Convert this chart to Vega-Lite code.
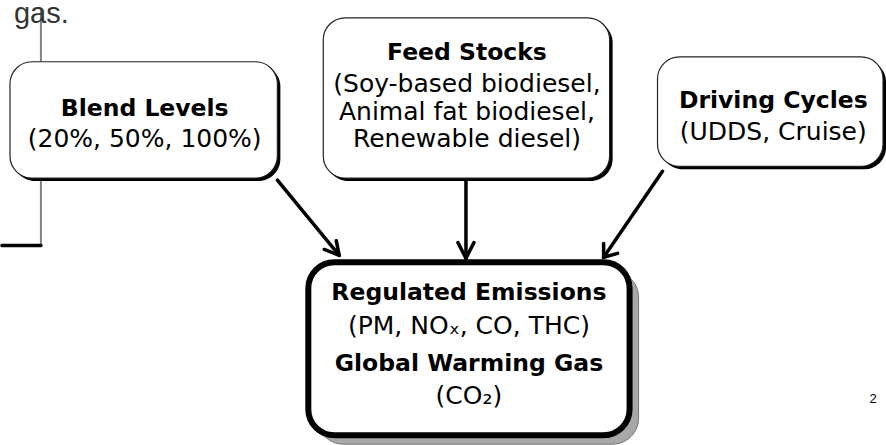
{
  "$schema": "https://vega.github.io/schema/vega-lite/v6.json",
  "width": 886,
  "height": 445,
  "padding": 0,
  "autosize": {"type": "fit", "contains": "padding"},
  "background": "white",
  "config": {"view": {"stroke": null}},
  "datasets": {
    "boxes": [
      {"name": "Blend", "x": 8, "x2": 276, "y": 55, "y2": 174},
      {"name": "Feed", "x": 322, "x2": 609, "y": 10, "y2": 174},
      {"name": "Driving", "x": 657, "x2": 883, "y": 50, "y2": 162}
    ],
    "center": [
      {"name": "Result", "x": 307, "x2": 629, "y": 260, "y2": 437}
    ],
    "segments": [
      {"kind": "arrow", "x": 276, "y": 176, "x2": 338, "y2": 253},
      {"kind": "arrow", "x": 338, "y": 253, "x2": 335, "y2": 238},
      {"kind": "arrow", "x": 338, "y": 253, "x2": 323, "y2": 247},
      {"kind": "arrow", "x": 465, "y": 177, "x2": 465, "y2": 256},
      {"kind": "arrow", "x": 465, "y": 256, "x2": 457, "y2": 240},
      {"kind": "arrow", "x": 465, "y": 256, "x2": 473, "y2": 240},
      {"kind": "arrow", "x": 662, "y": 167, "x2": 603, "y2": 255},
      {"kind": "arrow", "x": 603, "y": 255, "x2": 603, "y2": 241},
      {"kind": "arrow", "x": 603, "y": 255, "x2": 617, "y2": 251},
      {"kind": "bracket", "x": 0, "y": 243, "x2": 39, "y2": 243}
    ],
    "guides": [
      {"x": 39, "y": 0, "x2": 39, "y2": 55},
      {"x": 39, "y": 177, "x2": 39, "y2": 244}
    ],
    "labels": [
      {"text": "Blend Levels", "x": 143, "y": 103, "weight": "bold"},
      {"text": "(20%, 50%, 100%)", "x": 143, "y": 134, "weight": "normal"},
      {"text": "Feed Stocks", "x": 466, "y": 46, "weight": "bold"},
      {"text": "(Soy-based biodiesel,", "x": 466, "y": 78, "weight": "normal"},
      {"text": "Animal fat biodiesel,", "x": 466, "y": 106, "weight": "normal"},
      {"text": "Renewable diesel)", "x": 466, "y": 134, "weight": "normal"},
      {"text": "Driving Cycles", "x": 773, "y": 95, "weight": "bold"},
      {"text": "(UDDS, Cruise)", "x": 773, "y": 127, "weight": "normal"},
      {"text": "Regulated Emissions", "x": 468, "y": 292, "weight": "bold"},
      {"text": "(PM, NOₓ, CO, THC)", "x": 468, "y": 325, "weight": "normal"},
      {"text": "Global Warming Gas", "x": 468, "y": 364, "weight": "bold"},
      {"text": "(CO₂)", "x": 468, "y": 397, "weight": "normal"}
    ],
    "misc": [
      {"text": "gas.", "x": 12, "y": 15, "role": "caption"},
      {"text": "2", "x": 873, "y": 400, "role": "page"}
    ]
  },
  "layer": [
    {
      "data": {"name": "guides"},
      "mark": {"type": "rule", "color": "#808080", "strokeWidth": 2},
      "encoding": {
        "x": {"field": "x", "type": "quantitative", "scale": {"domain": [0, 886], "nice": false, "zero": false}, "axis": null},
        "y": {"field": "y", "type": "quantitative", "scale": {"domain": [0, 445], "nice": false, "zero": false, "reverse": true}, "axis": null},
        "x2": {"field": "x2"},
        "y2": {"field": "y2"}
      }
    },
    {
      "data": {"name": "misc"},
      "transform": [{"filter": "datum.role === 'caption'"}],
      "mark": {"type": "text", "font": "Liberation Sans", "fontSize": 29, "align": "left", "baseline": "alphabetic", "color": "#333333"},
      "encoding": {
        "x": {"field": "x", "type": "quantitative"},
        "y": {"field": "y", "type": "quantitative"},
        "text": {"field": "text"}
      }
    },
    {
      "data": {"name": "boxes"},
      "mark": {"type": "rect", "color": "black", "cornerRadius": 22, "xOffset": 3, "x2Offset": 3, "yOffset": 3, "y2Offset": 3},
      "encoding": {
        "x": {"field": "x", "type": "quantitative"},
        "x2": {"field": "x2"},
        "y": {"field": "y", "type": "quantitative"},
        "y2": {"field": "y2"}
      }
    },
    {
      "data": {"name": "boxes"},
      "mark": {"type": "rect", "fill": "white", "stroke": "#222222", "strokeWidth": 1.2, "cornerRadius": 22},
      "encoding": {
        "x": {"field": "x", "type": "quantitative"},
        "x2": {"field": "x2"},
        "y": {"field": "y", "type": "quantitative"},
        "y2": {"field": "y2"}
      }
    },
    {
      "data": {"name": "center"},
      "mark": {"type": "rect", "fill": "#a8a8a8", "stroke": "#777777", "strokeWidth": 1, "cornerRadius": 26, "xOffset": 9, "x2Offset": 9, "yOffset": 9, "y2Offset": 9},
      "encoding": {
        "x": {"field": "x", "type": "quantitative"},
        "x2": {"field": "x2"},
        "y": {"field": "y", "type": "quantitative"},
        "y2": {"field": "y2"}
      }
    },
    {
      "data": {"name": "center"},
      "mark": {"type": "rect", "fill": "white", "stroke": "black", "strokeWidth": 6, "cornerRadius": 26},
      "encoding": {
        "x": {"field": "x", "type": "quantitative"},
        "x2": {"field": "x2"},
        "y": {"field": "y", "type": "quantitative"},
        "y2": {"field": "y2"}
      }
    },
    {
      "data": {"name": "segments"},
      "mark": {"type": "rule", "color": "black", "strokeWidth": 3.5, "strokeCap": "round"},
      "encoding": {
        "x": {"field": "x", "type": "quantitative"},
        "y": {"field": "y", "type": "quantitative"},
        "x2": {"field": "x2"},
        "y2": {"field": "y2"}
      }
    },
    {
      "data": {"name": "labels"},
      "transform": [{"filter": "datum.weight === 'bold'"}],
      "mark": {"type": "text", "font": "DejaVu Sans", "fontWeight": "bold", "fontSize": 23.5, "align": "center", "baseline": "middle", "color": "black"},
      "encoding": {
        "x": {"field": "x", "type": "quantitative"},
        "y": {"field": "y", "type": "quantitative"},
        "text": {"field": "text"}
      }
    },
    {
      "data": {"name": "labels"},
      "transform": [{"filter": "datum.weight === 'normal'"}],
      "mark": {"type": "text", "font": "DejaVu Sans", "fontSize": 25, "align": "center", "baseline": "middle", "color": "black"},
      "encoding": {
        "x": {"field": "x", "type": "quantitative"},
        "y": {"field": "y", "type": "quantitative"},
        "text": {"field": "text"}
      }
    },
    {
      "data": {"name": "misc"},
      "transform": [{"filter": "datum.role === 'page'"}],
      "mark": {"type": "text", "font": "Liberation Sans", "fontSize": 13, "align": "center", "baseline": "middle", "color": "black"},
      "encoding": {
        "x": {"field": "x", "type": "quantitative"},
        "y": {"field": "y", "type": "quantitative"},
        "text": {"field": "text"}
      }
    }
  ]
}
